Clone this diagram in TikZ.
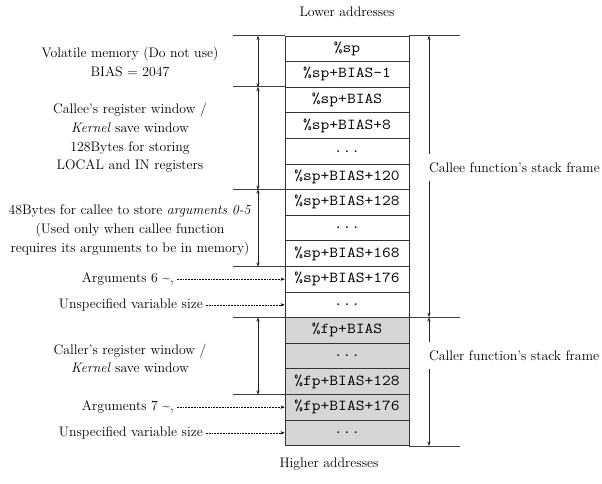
\documentclass[tikz,border=0pt]{standalone}
\usepackage{fontspec}
\setmonofont[FakeStretch=1.12]{Latin Modern Mono}
\usetikzlibrary{arrows.meta}

\begin{document}
\begin{tikzpicture}[x=1pt,y=-1pt,
  cell/.style={draw=black!80, line width=0.8pt, minimum width=124pt,
    minimum height=25.6pt, inner sep=0pt,
    font=\ttfamily\fontsize{15.2}{16}\selectfont},
  gcell/.style={cell, fill=black!16},
  lbl/.style={font=\fontsize{13.8}{18.7}\selectfont, align=center, inner sep=0pt},
  guide/.style={draw=black!75, line width=0.8pt},
  dim/.style={draw=black!85, line width=0.7pt,
    {Stealth[length=4.5pt,width=3.2pt]}-{Stealth[length=4.5pt,width=3.2pt]}},
  tip/.style={draw=black!85, line width=0.7pt, -{Stealth[length=4.5pt,width=3.2pt]}},
  pointer/.style={draw=black, line width=0.6pt, dash pattern=on 1.8pt off 1pt,
    -{Stealth[length=4pt,width=3.2pt]}},
]
\useasboundingbox (0,0) rectangle (602,483);

% stack cells, top (lower addresses) to bottom (higher addresses)
\node[cell]  (c1)  at (347, 48.8)  {\%sp};
\node[cell]  (c2)  at (347, 74.4)  {\%sp+BIAS-1};
\node[cell]  (c3)  at (347,100.0)  {\%sp+BIAS};
\node[cell]  (c4)  at (347,125.6)  {\%sp+BIAS+8};
\node[cell]  (c5)  at (347,151.2)  {...};
\node[cell]  (c6)  at (347,176.8)  {\%sp+BIAS+120};
\node[cell]  (c7)  at (347,202.4)  {\%sp+BIAS+128};
\node[cell]  (c8)  at (347,228.0)  {...};
\node[cell]  (c9)  at (347,253.6)  {\%sp+BIAS+168};
\node[cell]  (c10) at (347,279.2)  {\%sp+BIAS+176};
\node[cell]  (c11) at (347,304.8)  {...};
\node[gcell] (c12) at (347,330.4)  {\%fp+BIAS};
\node[gcell] (c13) at (347,356.0)  {...};
\node[gcell] (c14) at (347,381.6)  {\%fp+BIAS+128};
\node[gcell] (c15) at (347,407.2)  {\%fp+BIAS+176};
\node[gcell] (c16) at (347,432.8)  {...};

% guide lines extending the region boundaries
\draw[guide] (c1.north west) -- ++(-52,0);
\draw[guide] (c1.north east) -- ++(51,0);
\draw[guide] (c3.north west) -- ++(-52,0);
\draw[guide] (c7.north west) -- ++(-52,0);
\draw[guide] (c10.north west) -- ++(-52,0);
\draw[guide] (c12.north west) -- ++(-52,0);
\draw[guide] (c12.north east) -- ++(51,0);
\draw[guide] (c15.north west) -- ++(-52,0);
\draw[guide] (c16.south east) -- ++(51,0);

% left dimension arrows
\coordinate (lx) at (258,0);
\draw[dim] (c1.north west -| lx) -- (c2.south west -| lx);
\draw[dim] (c3.north west -| lx) -- (c6.south west -| lx);
\draw[dim] (c7.north west -| lx) -- (c9.south west -| lx);
\draw[dim] (c12.north west -| lx) -- (c14.south west -| lx);

% left descriptions
\node[lbl] (vol) at (130,62) {Volatile memory (Do not use)\\BIAS = 2047};
\node[lbl] (crw) at (130,138) {Callee’s register window /\\\textit{Kernel} save window\\128Bytes for storing\\LOCAL and IN registers};
\node[lbl] (arg) at (130,230.5) {48Bytes for callee to store \textit{arguments 0-5}\\(Used only when callee function\\requires its arguments to be in memory)};
\node[lbl] (rrw) at (130,358.5) {Caller’s register window /\\\textit{Kernel} save window};

% pointers to single slots
\node[lbl, anchor=east] (a6) at (174,279.2) {Arguments 6 \textasciitilde,};
\node[lbl, anchor=east] (u1) at (203,304.8) {Unspecified variable size};
\node[lbl, anchor=east] (a7) at (174,407.2) {Arguments 7 \textasciitilde,};
\node[lbl, anchor=east] (u2) at (203,432.8) {Unspecified variable size};
\draw[pointer] (a6.east) ++(3,0) -- (c10.west);
\draw[pointer] (u1.east) ++(3,0) -- (c11.west);
\draw[pointer] (a7.east) ++(3,0) -- (c15.west);
\draw[pointer] (u2.east) ++(3,0) -- (c16.west);

% stack frame extents on the right
\coordinate (rx) at (429,0);
\node[lbl, anchor=west] (callee) at (429,167.5) {Callee function’s stack frame};
\node[lbl, anchor=west] (caller) at (429,356) {Caller function’s stack frame};
\draw[tip] (rx |- callee.center) ++(0,-14) -- (c1.north east -| rx);
\draw[tip] (rx |- callee.center) ++(0,13) -- (c12.north east -| rx);
\draw[tip] (rx |- caller.center) ++(0,-14) -- (c12.north east -| rx);
\draw[tip] (rx |- caller.center) ++(0,13) -- (c16.south east -| rx);

% address direction
\node[lbl] (low) at (347,12) {Lower addresses};
\node[lbl] (high) at (329,464) {Higher addresses};
\end{tikzpicture}
\end{document}
